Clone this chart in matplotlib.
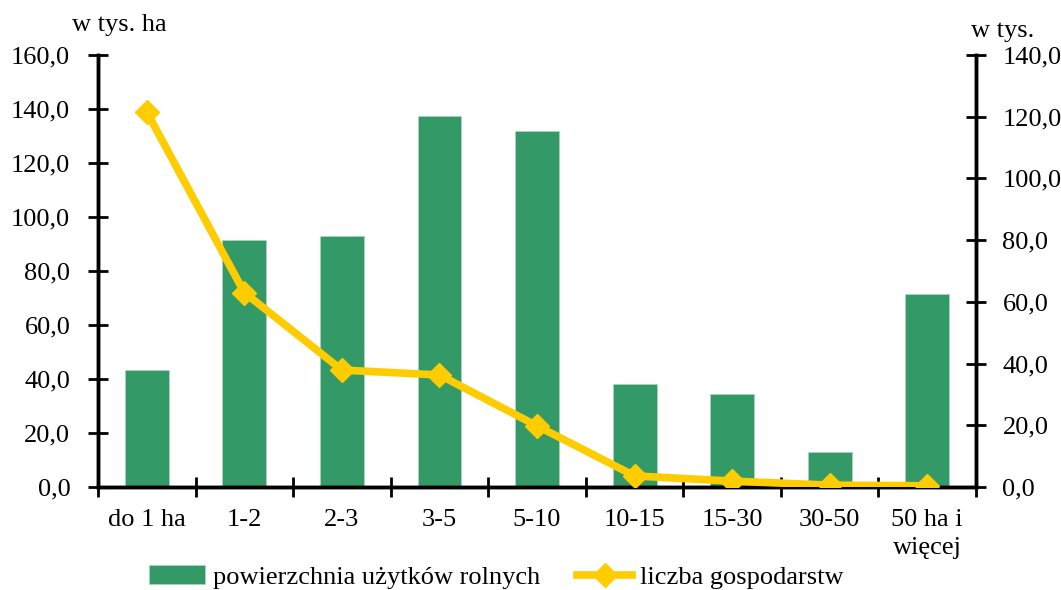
import numpy as np
import matplotlib
matplotlib.use("Agg")
from matplotlib import pyplot as plt
from matplotlib.ticker import FuncFormatter, FixedLocator

plt.rcParams['font.family'] = ['Liberation Serif', 'DejaVu Serif']

# Data
categories = ["do 1 ha", "1-2", "2-3", "3-5", "5-10", "10-15", "15-30", "30-50", "50 ha i\nwięcej"]
area = [43.4, 91.5, 93.0, 137.4, 131.7, 38.1, 34.4, 13.0, 71.5]       # w tys. ha
farms = [121.5, 63.0, 37.9, 36.3, 19.8, 3.6, 1.9, 0.6, 0.4]           # w tys.

bar_color = "#339966"
line_color = "#FFCC00"

fig = plt.figure(figsize=(10.61, 5.90), dpi=100)
ax = fig.add_axes([0.0924, 0.1746, 0.8275, 0.7322])
ax2 = ax.twinx()

x = np.arange(len(categories))
bars = ax.bar(x, area, width=0.45, color=bar_color, edgecolor="#a8d5bd", linewidth=0.6,
              label="powierzchnia użytków rolnych", zorder=2)
line, = ax2.plot(x, farms, color=line_color, linewidth=5.5, marker="D", markersize=12,
                 label="liczba gospodarstw", zorder=3)

ax.set_xlim(-0.5, len(categories) - 0.5)
ax.set_ylim(0, 160)
ax2.set_ylim(0, 140)
ax.set_yticks(np.arange(0, 161, 20))
ax2.set_yticks(np.arange(0, 141, 20))

fmt = FuncFormatter(lambda v, p: f"{v:.1f}".replace(".", ","))
ax.yaxis.set_major_formatter(fmt)
ax2.yaxis.set_major_formatter(fmt)

# category labels centred, tick marks on the boundaries
ax.xaxis.set_major_locator(FixedLocator(np.arange(-0.5, len(categories), 1.0)))
ax.xaxis.set_major_formatter(FuncFormatter(lambda v, p: ""))
ax.xaxis.set_minor_locator(FixedLocator(x))
ax.set_xticklabels(categories, minor=True, linespacing=1.35)
ax.tick_params(axis="x", which="minor", length=0, pad=16, labelsize=19)
ax.tick_params(axis="x", which="major", direction="inout", length=14, width=2)

ax.tick_params(axis="y", direction="inout", length=14, width=2, labelsize=19, pad=13)
ax2.tick_params(axis="y", direction="inout", length=14, width=2, labelsize=19, pad=12)

for a in (ax, ax2):
    a.spines["top"].set_visible(False)
    for s in ("left", "right", "bottom"):
        a.spines[s].set_linewidth(2.5)

fig.text(0.112, 0.957, "w tys. ha", fontsize=19, ha="center", va="center")
fig.text(0.945, 0.948, "w tys.", fontsize=19, ha="center", va="center")

fig.legend(handles=[bars, line], loc="center", bbox_to_anchor=(0.468, 0.022),
           ncol=2, frameon=False, fontsize=19, handlelength=2.1, handletextpad=0.3,
           columnspacing=1.4, borderaxespad=0)

fig.savefig("out.png", dpi=100)
